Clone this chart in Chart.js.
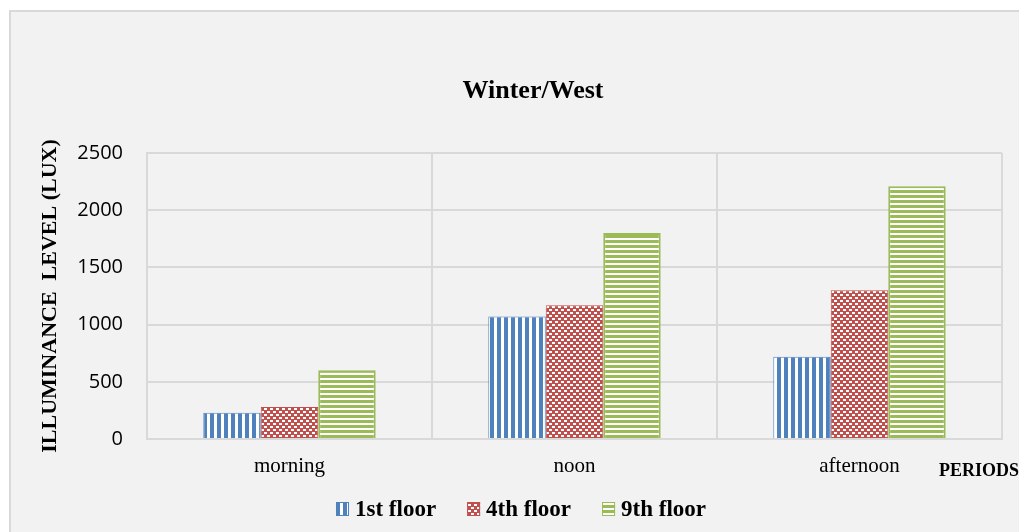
<!DOCTYPE html>
<html>
<head>
<meta charset="utf-8">
<title>Winter/West</title>
<script src="https://cdn.jsdelivr.net/npm/chart.js"></script>
<style>
    * { margin: 0; padding: 0; box-sizing: border-box; }
    body { background: #ffffff; width: 1019px; height: 532px; overflow: hidden; position: relative; }
    .frame {
        position: absolute;
        left: 9px;
        top: 10px;
        width: 1100px;
        height: 600px;
        background: #f2f2f2;
        border: 2px solid #d9d9d9;
    }
    .chart-box {
        position: absolute;
        left: 0;
        top: 0;
        width: 1019px;
        height: 532px;
    }
</style>
</head>
<body>
<div class="frame"></div>
<div class="chart-box">
    <canvas id="illum"></canvas>
</div>
<script>
    // periods of the day and measured illuminance (lux) per floor
    const periods = ['morning', 'noon', 'afternoon'];
    const floorNames = ['1st floor', '4th floor', '9th floor'];
    const floor1 = [230, 1070, 720];
    const floor4 = [280, 1170, 1300];
    const floor9 = [600, 1800, 2210];

    const blue = '#4f81bd';
    const red = '#c0504d';
    const green = '#9bbb59';

    const serif = '"Liberation Serif", "Times New Roman", serif';

    // small tiles used as fills: vertical stripes, checks, horizontal stripes
    function makeTile(w, h, draw) {
        const c = document.createElement('canvas');
        c.width = w;
        c.height = h;
        draw(c.getContext('2d'));
        return document.createElement('canvas').getContext('2d').createPattern(c, 'repeat');
    }

    const vStripes = makeTile(7, 7, g => {
        g.fillStyle = blue; g.fillRect(0, 0, 7, 7);
        g.fillStyle = '#fff'; g.fillRect(4, 0, 3, 7);
    });
    const checks = makeTile(6, 6, g => {
        g.fillStyle = red; g.fillRect(0, 0, 6, 6);
        g.fillStyle = '#fff'; g.fillRect(0, 0, 3, 2); g.fillRect(3, 3, 3, 2);
    });
    const hStripes = makeTile(5, 5, g => {
        g.fillStyle = green; g.fillRect(0, 0, 5, 5);
        g.fillStyle = '#fff'; g.fillRect(0, 3, 5, 2);
    });

    // title, the "PERIODS" label and the legend row
    const extraText = {
        id: 'extraText',
        afterDraw(chart) {
            const ctx = chart.ctx;
            ctx.save();
            ctx.fillStyle = '#000';
            ctx.textBaseline = 'middle';

            ctx.font = 'bold 26px ' + serif;
            ctx.textAlign = 'center';
            ctx.fillText('Winter/West', 533, 91);

            ctx.font = 'bold 18px ' + serif;
            ctx.textAlign = 'left';
            ctx.fillText('PERIODS', 939, 471);

            // legend
            ctx.font = 'bold 23px ' + serif;
            const boxW = 13, boxH = 14, gap = 6, spacing = 31;
            const sets = chart.data.datasets;
            const widths = sets.map(ds => boxW + gap + ctx.measureText(ds.label).width);
            const total = widths.reduce((a, b) => a + b, 0) + spacing * (sets.length - 1);
            let x = 521 - total / 2;
            const cy = 509;
            sets.forEach((ds, i) => {
                ctx.fillStyle = ds.backgroundColor;
                ctx.fillRect(x, cy - boxH / 2, boxW, boxH);
                ctx.strokeStyle = ds.borderColor;
                ctx.lineWidth = 1;
                ctx.strokeRect(x + 0.5, cy - boxH / 2 + 0.5, boxW - 1, boxH - 1);
                ctx.fillStyle = '#000';
                ctx.fillText(ds.label, x + boxW + gap, cy + 1);
                x += widths[i] + spacing;
            });
            ctx.restore();
        }
    };

    const gridColor = '#d9d9d9';

    new Chart(document.getElementById('illum'), {
        type: 'bar',
        data: {
            labels: periods,
            datasets: [
                { label: floorNames[0], data: floor1, backgroundColor: vStripes, borderColor: blue, borderWidth: 1 },
                { label: floorNames[1], data: floor4, backgroundColor: checks, borderColor: red, borderWidth: 1 },
                { label: floorNames[2], data: floor9, backgroundColor: hStripes, borderColor: green, borderWidth: 2 }
            ]
        },
        options: {
            responsive: true,
            maintainAspectRatio: false,
            animation: false,
            layout: { padding: { left: 0, right: 17, top: 153, bottom: 48 } },
            datasets: { bar: { categoryPercentage: 0.605, barPercentage: 1 } },
            plugins: {
                legend: { display: false },
                title: { display: false },
                tooltip: { enabled: false }
            },
            scales: {
                x: {
                    grid: { color: gridColor, lineWidth: 2, drawTicks: false, offset: true },
                    border: { color: gridColor, width: 2 },
                    ticks: { color: '#000', padding: 15, font: { family: serif, size: 21 } },
                    afterFit: s => { s.height = 45; }
                },
                y: {
                    min: 0,
                    max: 2500,
                    ticks: {
                        stepSize: 500,
                        color: '#000',
                        padding: 24,
                        font: { family: '"Open Sans", sans-serif', size: 20 },
                        callback: v => String(v)
                    },
                    grid: { color: gridColor, lineWidth: 2, drawTicks: false },
                    border: { color: gridColor, width: 2 },
                    title: {
                        display: true,
                        text: 'ILLUMINANCE  LEVEL (LUX)',
                        color: '#000',
                        padding: { top: 37, bottom: 0 },
                        font: { family: serif, size: 22, weight: 'bold', lineHeight: 1.2 }
                    },
                    afterFit: s => { s.width = 147; }
                }
            }
        },
        plugins: [extraText]
    });
</script>
</body>
</html>
